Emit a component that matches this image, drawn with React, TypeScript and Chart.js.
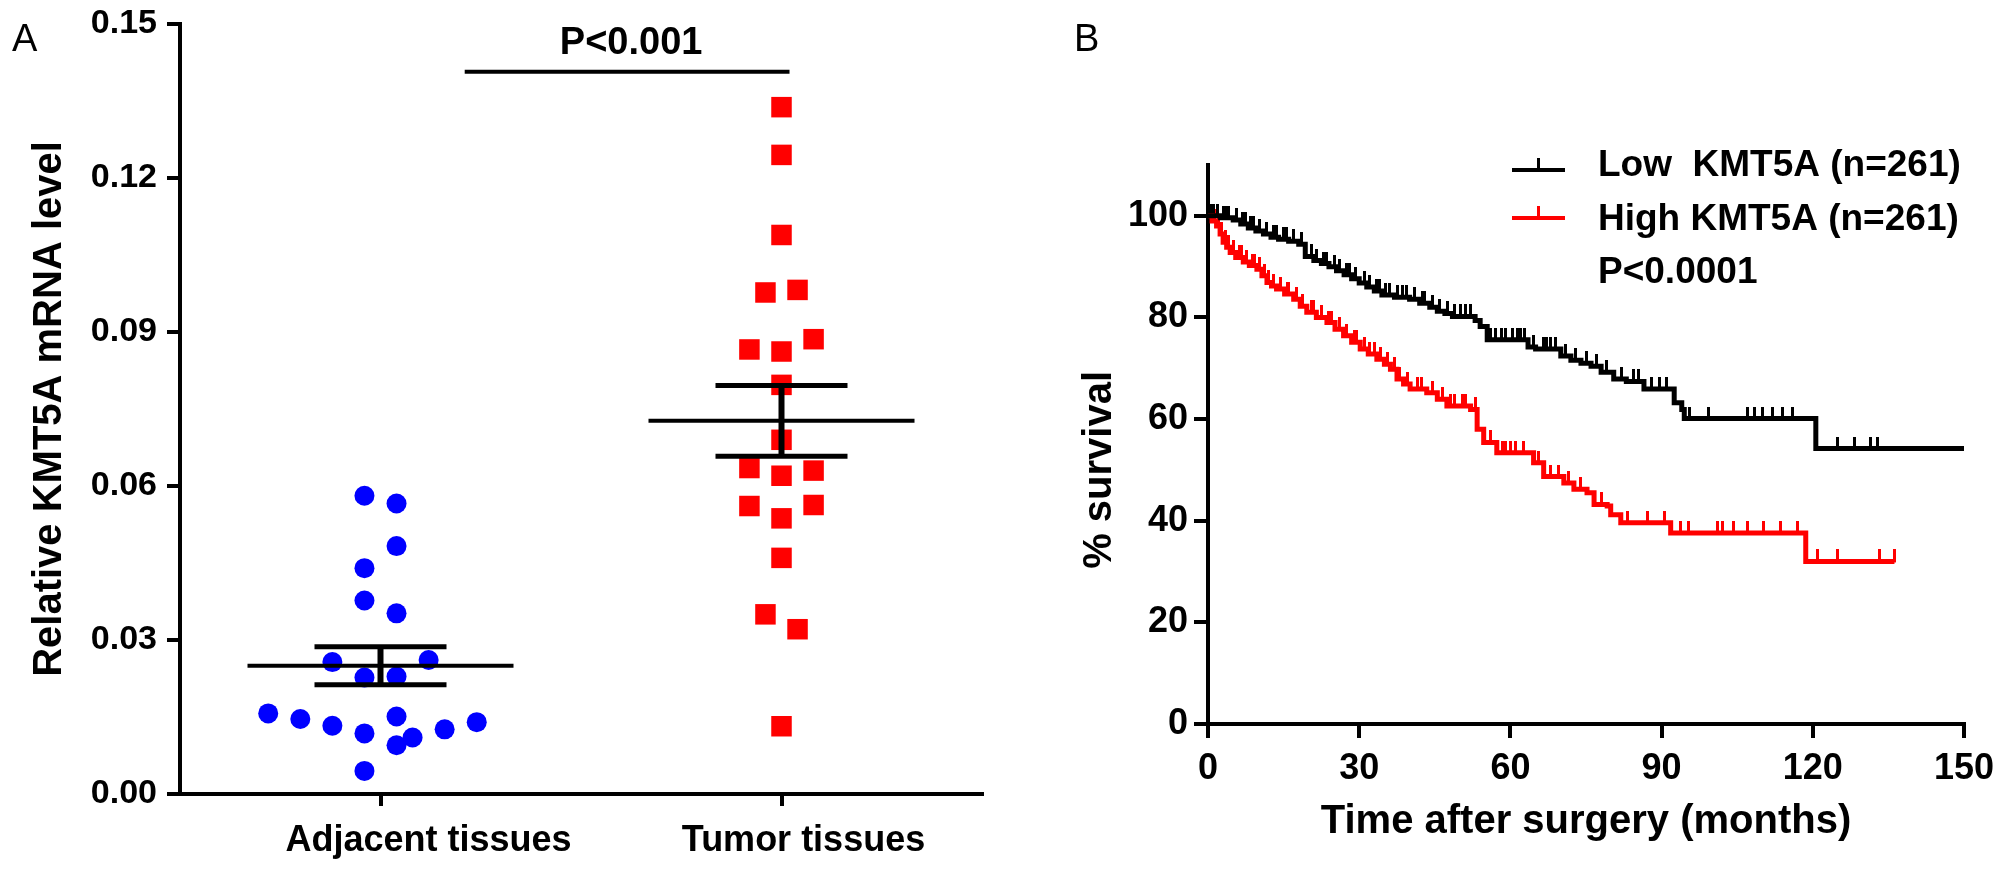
import React, { useEffect, useRef } from "react";
import { Chart, registerables } from "chart.js";

Chart.register(...registerables);

const FONT = "'Liberation Sans', Arial, Helvetica, sans-serif";

// ---------------- Panel A data ----------------
const groupLabels = ["Adjacent tissues", "Tumor tissues"];
const adjacentValues = [
  0.0581, 0.0566, 0.0483, 0.044, 0.0377, 0.0352, 0.0257, 0.0261, 0.0227, 0.0229,
  0.0157, 0.0146, 0.0133, 0.0118, 0.0151, 0.011, 0.0095, 0.0126, 0.014, 0.0045,
];
// horizontal scatter offset of each dot, in category units
const adjacentJitter = [
  -0.04, 0.04, 0.04, -0.04, -0.04, 0.04, -0.12, 0.12, -0.04, 0.04,
  -0.28, -0.2, -0.12, -0.04, 0.04, 0.08, 0.04, 0.16, 0.24, -0.04,
];
const tumorValues = [
  0.1338, 0.1245, 0.1089, 0.0977, 0.0982, 0.0886, 0.0866, 0.0862, 0.0797, 0.069,
  0.0635, 0.062, 0.063, 0.0561, 0.0537, 0.0563, 0.046, 0.035, 0.0321, 0.0132,
];
const tumorJitter = [
  0, 0, 0, -0.04, 0.04, 0.08, -0.08, 0, 0, 0,
  -0.08, 0, 0.08, -0.08, 0, 0.08, 0, -0.04, 0.04, 0,
];
const groupMeans = [0.025, 0.0727];
const groupSem = [0.0037, 0.0069];
const yTicksA = [0, 0.03, 0.06, 0.09, 0.12, 0.15];
const significanceText = "P<0.001";
const significanceLevel = 0.1407;
const significanceSpan = [0.21, 1.02];

// ---------------- Panel B data ----------------
const lowLabel = "Low  KMT5A (n=261)";
const highLabel = "High KMT5A (n=261)";
const logRankText = "P<0.0001";
const lowTimes = [
  0, 2.5, 5, 6.5, 8, 9.5, 11, 12.5, 14, 16, 18, 19.3, 21, 22.5, 24, 25.5, 27, 28.5, 30,
  31.5, 33, 34.5, 37, 40, 42, 44, 45.5, 47, 48.5, 53, 54, 55.4, 63.5, 65, 70, 72, 74, 76,
  78, 80.5, 83, 86.5, 92.5, 94, 94.5, 120.6, 150,
];
const lowSurvival = [
  100, 99.6, 99.2, 98.4, 97.6, 97.0, 96.4, 95.8, 95.4, 95.0, 94.4, 92.0, 91.2, 90.6, 90.0,
  89.2, 88.4, 87.6, 86.8, 86.0, 85.2, 84.4, 84.0, 83.6, 82.8, 82.0, 81.2, 80.8, 80.2, 79.4,
  78.2, 75.6, 74.2, 73.8, 72.4, 71.6, 71.0, 70.4, 69.2, 67.9, 67.4, 65.9, 63.2, 61.9, 60.1,
  54.2, 54.2,
];
const highTimes = [
  0, 0.8, 1.7, 2.4, 3, 3.7, 4.4, 5.5, 7, 8.2, 9.7, 10.7, 11.7, 12.6, 13.6, 15.2, 17, 18.3,
  19.6, 21.5, 23.6, 25.2, 26.9, 28.5, 30.2, 31.8, 33.5, 35, 36.2, 37.5, 38.8, 40.1, 43.4,
  45.5, 47.4, 52.1, 53.4, 54.7, 57.3, 64.6, 66.6, 70.6, 72.6, 75.2, 76.6, 79.2, 79.9, 81.9,
  91.8, 118.6, 136.2,
];
const highSurvival = [
  100, 99, 98, 96.4, 94.8, 93.8, 92.8, 91.8, 90.9, 90.2, 89.5, 88.2, 86.9, 86.2, 85.6, 84.6,
  83.6, 82.2, 81, 80, 79, 77.7, 76.4, 75.1, 73.8, 72.8, 71.8, 70.8, 69.8, 67.9, 66.9, 65.9,
  65.2, 63.9, 62.6, 61.9, 58, 55.4, 53.4, 51.4, 48.7, 47.4, 46.2, 45.5, 43.2, 42.9, 41.2,
  39.6, 37.6, 32, 32,
];
const lowCensorTimes = [
  0.5, 1, 1.8, 3, 3.6, 4, 5.6, 6.8, 7.4, 8.5, 9, 10.2, 11.6, 13, 13.6, 15, 15.6, 17, 18.6,
  20.5, 21.6, 23, 23.6, 25, 26, 27.4, 28, 29.2, 31, 32, 33.5, 34, 35.2, 36, 37.6, 38.5, 39.4,
  41, 42.6, 43, 44.6, 46, 47.6, 49, 50, 51, 52, 56, 57, 58.2, 59, 60.5, 61.4, 62, 62.8, 64.5,
  66.5, 67.2, 68, 69, 71, 73, 75, 77, 79, 82, 84.5, 85.5, 88, 89.5, 91, 95.5, 99.4, 107,
  108.5, 110, 112, 114, 116, 124.9, 128.2, 131.5, 132.9,
];
const highCensorTimes = [
  0.4, 1.2, 2, 2.6, 3.4, 4, 5, 6.2, 6.6, 7.6, 8.8, 9.2, 10.2, 11.2, 12, 13, 14.4, 15.8, 16,
  17.6, 18.8, 20.5, 21, 22.5, 24, 24.5, 26, 27.5, 29, 29.5, 31, 32, 33, 34.2, 35.6, 37, 38,
  39.5, 41.5, 42.4, 44.5, 46.5, 48.2, 49, 50.4, 51, 53, 56, 58.4, 59, 60, 61, 62.5, 65.5,
  68, 69.5, 71.5, 74, 78, 83.2, 87.2, 90.5, 93.8, 95.4, 101, 102, 104.3, 107, 110.3, 113.6,
  116.9, 120.9, 124.9, 133.2, 136.2,
];
const xTicksB = [0, 30, 60, 90, 120, 150];
const yTicksB = [0, 20, 40, 60, 80, 100];

const BLACK = "#000000";
const RED = "#FF0000";
const BLUE = "#0000FF";

function survivalAt(times: number[], surv: number[], t: number) {
  let v = surv[0];
  for (let i = 0; i < times.length; i++) {
    if (times[i] <= t) v = surv[i];
    else break;
  }
  return v;
}

function makeTick(color: string) {
  const c = document.createElement("canvas");
  c.width = 3;
  c.height = 24;
  const g = c.getContext("2d")!;
  g.fillStyle = color;
  g.fillRect(0, 0, 3, 13);
  return c;
}

function fixedAxis(size: { width?: number; height?: number }) {
  return (scale: any) => {
    if (size.width !== undefined) scale.width = size.width;
    if (size.height !== undefined) scale.height = size.height;
    scale.paddingTop = 0;
    scale.paddingBottom = 0;
    scale.paddingLeft = 0;
    scale.paddingRight = 0;
  };
}

const axisGrid = (tickLength: number) => ({
  display: true,
  drawOnChartArea: false,
  drawTicks: true,
  tickLength,
  lineWidth: 4,
  color: BLACK,
});
const axisBorder = { display: true, color: BLACK, width: 4 };

// the group labels sit slightly right of their tick marks in the original
const groupLabelShift = [48, 22];

const annotA = {
  id: "annotA",
  afterDatasetsDraw(chart: any) {
    const { ctx } = chart;
    const xs = chart.scales.x;
    const ys = chart.scales.y;
    ctx.save();
    ctx.strokeStyle = BLACK;
    ctx.lineCap = "butt";
    const line = (x1: number, y1: number, x2: number, y2: number, w: number) => {
      ctx.lineWidth = w;
      ctx.beginPath();
      ctx.moveTo(x1, y1);
      ctx.lineTo(x2, y2);
      ctx.stroke();
    };
    groupMeans.forEach((m, i) => {
      const cx = xs.getPixelForValue(i);
      const ym = ys.getPixelForValue(m);
      const yu = ys.getPixelForValue(m + groupSem[i]);
      const yl = ys.getPixelForValue(m - groupSem[i]);
      line(cx - 133, ym, cx + 133, ym, 4);
      line(cx - 66, yu, cx + 66, yu, 5);
      line(cx - 66, yl, cx + 66, yl, 5);
      line(cx, yu, cx, yl, 6);
    });
    // significance bar
    const yb = ys.getPixelForValue(significanceLevel);
    const x1 = xs.getPixelForValue(significanceSpan[0]);
    const x2 = xs.getPixelForValue(significanceSpan[1]);
    line(x1, yb, x2, yb, 4);
    ctx.fillStyle = BLACK;
    ctx.font = `bold 38px ${FONT}`;
    ctx.textAlign = "center";
    ctx.textBaseline = "alphabetic";
    ctx.fillText(significanceText, (x1 + x2) / 2 + 4, yb - 18);
    // group labels under the axis
    ctx.font = `bold 36px ${FONT}`;
    ctx.textBaseline = "middle";
    groupLabels.forEach((lab, i) => {
      ctx.fillText(lab, xs.getPixelForValue(i) + groupLabelShift[i], xs.top + 47);
    });
    // panel letter
    ctx.font = `38px ${FONT}`;
    ctx.textAlign = "left";
    ctx.textBaseline = "alphabetic";
    ctx.fillText("A", 12, 51);
    ctx.restore();
  },
};

const annotB = {
  id: "annotB",
  afterDraw(chart: any) {
    const { ctx } = chart;
    const ys = chart.scales.y;
    ctx.save();
    ctx.fillStyle = BLACK;
    // y title centred on 0..100 range
    const yc = (ys.getPixelForValue(0) + ys.getPixelForValue(100)) / 2;
    ctx.translate(60, yc);
    ctx.rotate(-Math.PI / 2);
    ctx.font = `bold 40px ${FONT}`;
    ctx.textAlign = "center";
    ctx.textBaseline = "middle";
    ctx.fillText("% survival", 0, 0);
    ctx.restore();

    ctx.save();
    // legend
    const rows = [
      { label: lowLabel, color: BLACK, yl: 170, yt: 166 },
      { label: highLabel, color: RED, yl: 218, yt: 220 },
    ];
    ctx.lineCap = "butt";
    rows.forEach((r) => {
      ctx.strokeStyle = r.color;
      ctx.lineWidth = 4;
      ctx.beginPath();
      ctx.moveTo(472, r.yl);
      ctx.lineTo(525, r.yl);
      ctx.stroke();
      ctx.lineWidth = 3;
      ctx.beginPath();
      ctx.moveTo(498.5, r.yl);
      ctx.lineTo(498.5, r.yl - 12);
      ctx.stroke();
      ctx.fillStyle = BLACK;
      ctx.font = `bold 37px ${FONT}`;
      ctx.textAlign = "left";
      ctx.textBaseline = "middle";
      ctx.fillText(r.label, 558, r.yt);
    });
    ctx.fillText(logRankText, 558, 273);
    // panel letter
    ctx.font = `38px ${FONT}`;
    ctx.textBaseline = "alphabetic";
    ctx.fillText("B", 34, 51);
    ctx.restore();
  },
};

export default function App() {
  const refA = useRef<HTMLCanvasElement>(null);
  const refB = useRef<HTMLCanvasElement>(null);

  useEffect(() => {
    document.body.style.margin = "0";

    const chartA = new Chart(refA.current!, {
      type: "scatter",
      data: {
        datasets: [
          {
            data: adjacentValues.map((v, i) => ({ x: 0 + adjacentJitter[i], y: v })),
            pointStyle: "circle",
            pointRadius: 10,
            pointBackgroundColor: BLUE,
            pointBorderWidth: 0,
            backgroundColor: BLUE,
          },
          {
            data: tumorValues.map((v, i) => ({ x: 1 + tumorJitter[i], y: v })),
            pointStyle: "rect",
            pointRadius: 14.5,
            pointBackgroundColor: RED,
            pointBorderWidth: 0,
            backgroundColor: RED,
          },
        ],
      },
      options: {
        responsive: false,
        animation: false,
        devicePixelRatio: 1,
        events: [],
        layout: { padding: { top: 24, right: 58, left: 0, bottom: 0 } },
        plugins: { legend: { display: false }, tooltip: { enabled: false } },
        scales: {
          x: {
            type: "linear",
            min: -0.5,
            max: 1.5,
            afterBuildTicks: (s: any) => {
              s.ticks = groupLabels.map((_, i) => ({ value: i }));
            },
            afterFit: fixedAxis({ height: 81 }),
            grid: axisGrid(12),
            border: axisBorder,
            ticks: { display: false },
          },
          y: {
            type: "linear",
            min: 0,
            max: 0.15,
            afterBuildTicks: (s: any) => {
              s.ticks = yTicksA.map((v) => ({ value: v }));
            },
            afterFit: fixedAxis({ width: 180 }),
            grid: axisGrid(13),
            border: axisBorder,
            ticks: {
              callback: (v: any) => Number(v).toFixed(2),
              font: { family: FONT, size: 34, weight: "bold" },
              color: BLACK,
              padding: 10,
            },
            title: {
              display: true,
              text: "Relative KMT5A mRNA level",
              font: { family: FONT, size: 40, weight: "bold" },
              color: BLACK,
              padding: { top: 26, bottom: 0 },
            },
          },
        },
      },
      plugins: [annotA],
    } as any);

    const tickBlack = makeTick(BLACK);
    const tickRed = makeTick(RED);

    const chartB = new Chart(refB.current!, {
      type: "line",
      data: {
        datasets: [
          {
            data: lowTimes.map((t, i) => ({ x: t, y: lowSurvival[i] })),
            borderColor: BLACK,
            borderWidth: 5,
            stepped: "before",
            pointRadius: 0,
            fill: false,
          },
          {
            data: highTimes.map((t, i) => ({ x: t, y: highSurvival[i] })),
            borderColor: RED,
            borderWidth: 5,
            stepped: "before",
            pointRadius: 0,
            fill: false,
          },
          {
            data: lowCensorTimes.map((t) => ({ x: t, y: survivalAt(lowTimes, lowSurvival, t) })),
            showLine: false,
            pointStyle: tickBlack,
            pointRadius: 3,
          },
          {
            data: highCensorTimes.map((t) => ({ x: t, y: survivalAt(highTimes, highSurvival, t) })),
            showLine: false,
            pointStyle: tickRed,
            pointRadius: 3,
          },
        ],
      },
      options: {
        responsive: false,
        animation: false,
        devicePixelRatio: 1,
        events: [],
        layout: { padding: { top: 165, right: 44, left: 0, bottom: 0 } },
        plugins: { legend: { display: false }, tooltip: { enabled: false } },
        scales: {
          x: {
            type: "linear",
            min: 0,
            max: 150,
            afterBuildTicks: (s: any) => {
              s.ticks = xTicksB.map((v) => ({ value: v }));
            },
            afterFit: fixedAxis({ height: 151 }),
            grid: axisGrid(14),
            border: axisBorder,
            ticks: {
              callback: (v: any) => String(v),
              font: { family: FONT, size: 36, weight: "bold" },
              color: BLACK,
              padding: 9,
              maxRotation: 0,
              autoSkip: false,
            },
            title: {
              display: true,
              text: "Time after surgery (months)",
              font: { family: FONT, size: 40, weight: "bold" },
              color: BLACK,
              padding: { top: 0, bottom: 29 },
            },
          },
          y: {
            type: "linear",
            min: 0,
            max: 110,
            afterBuildTicks: (s: any) => {
              s.ticks = yTicksB.map((v) => ({ value: v }));
            },
            afterFit: fixedAxis({ width: 168 }),
            grid: axisGrid(14),
            border: axisBorder,
            ticks: {
              callback: (v: any) => String(v),
              font: { family: FONT, size: 36, weight: "bold" },
              color: BLACK,
              padding: 6,
            },
          },
        },
      },
      plugins: [annotB],
    } as any);

    return () => {
      chartA.destroy();
      chartB.destroy();
    };
  }, []);

  return (
    <div style={{ position: "relative", width: 2008, height: 875, background: "#ffffff" }}>
      <canvas
        ref={refA}
        width={1040}
        height={875}
        style={{ position: "absolute", left: 0, top: 0, width: 1040, height: 875 }}
      />
      <canvas
        ref={refB}
        width={968}
        height={875}
        style={{ position: "absolute", left: 1040, top: 0, width: 968, height: 875 }}
      />
    </div>
  );
}
